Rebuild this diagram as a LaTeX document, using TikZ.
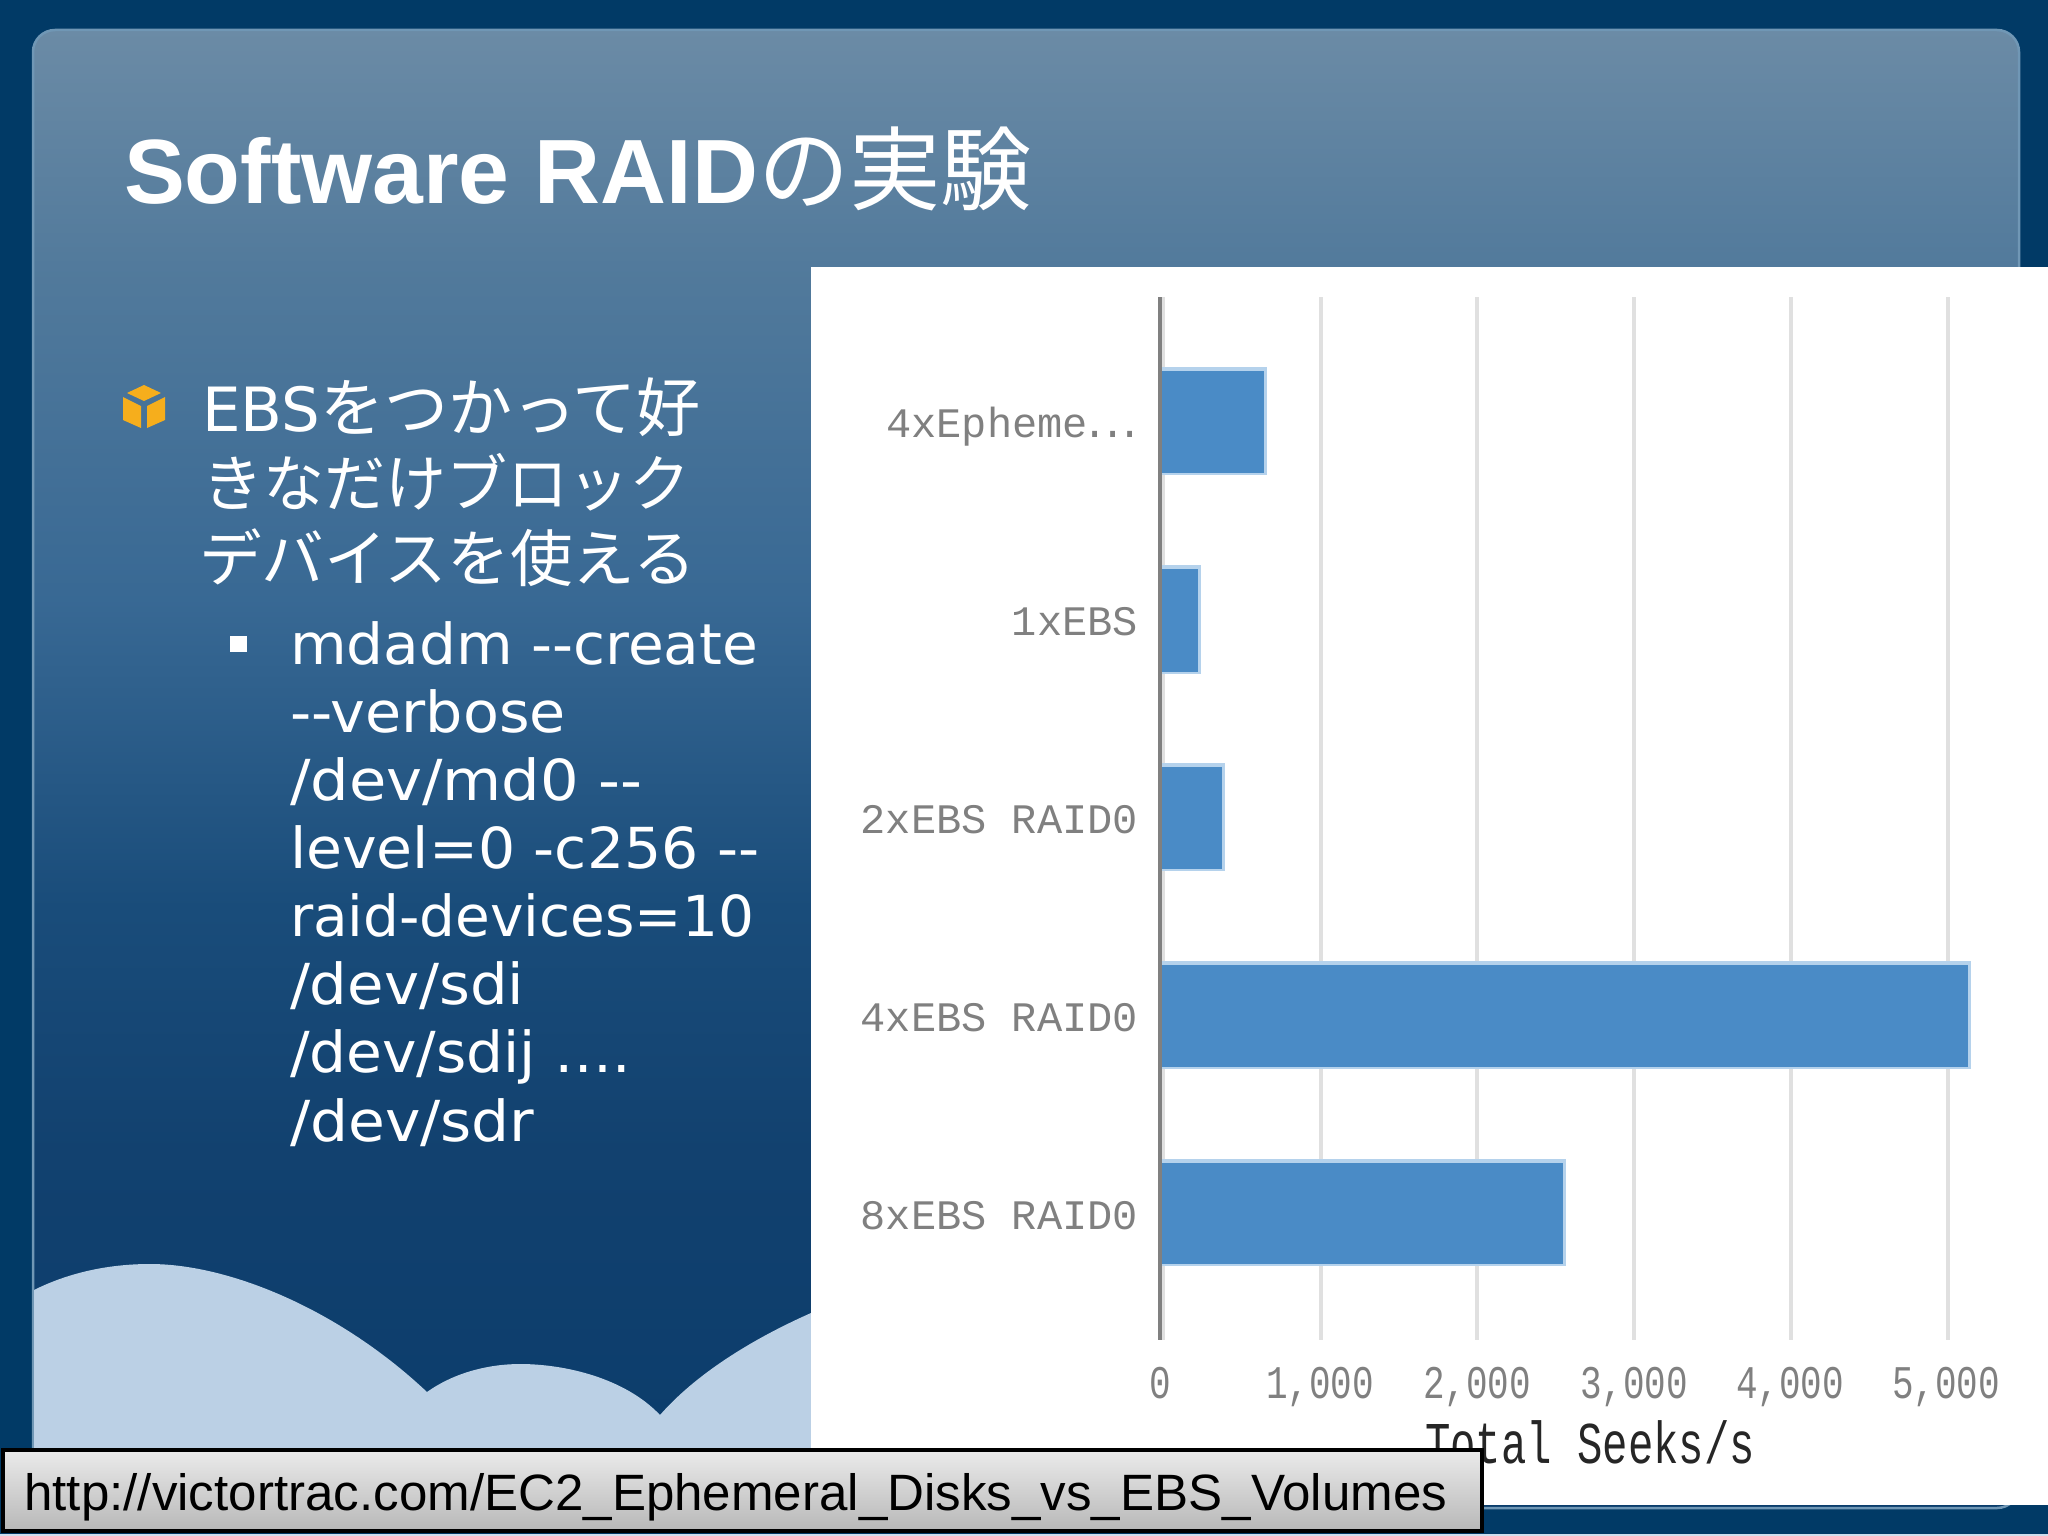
\documentclass[tikz,border=0pt]{standalone}
\usepackage{fontspec}
\setmainfont{Liberation Sans}
\newfontfamily\cjkf{Noto Sans CJK JP}
\newfontfamily\bodyf{DejaVu Sans}
\newfontfamily\monof{Liberation Mono}
\definecolor{outerblue}{HTML}{013A66}
\definecolor{hill}{HTML}{BBD0E5}
\definecolor{barblue}{HTML}{4A8BC6}
\definecolor{baredge}{HTML}{B5D2EC}
\definecolor{gridc}{HTML}{E0E0E0}
\definecolor{axisc}{HTML}{808080}
\definecolor{cubeo}{HTML}{F6AE1C}
\definecolor{paneledge}{HTML}{7097B5}
\pgfdeclareverticalshading{panelshade}{100bp}{
 rgb(0bp)=(0.04,0.235,0.42);
 rgb(25bp)=(0.04,0.235,0.42);
 rgb(37bp)=(0.07,0.255,0.435);
 rgb(45.5bp)=(0.10,0.30,0.48);
 rgb(55.7bp)=(0.22,0.41,0.58);
 rgb(66.9bp)=(0.32,0.478,0.61);
 rgb(75bp)=(0.42,0.545,0.65);
 rgb(100bp)=(0.42,0.545,0.65)}
\pgfdeclareverticalshading{urlshade}{100bp}{
 rgb(0bp)=(0.72,0.72,0.72);
 rgb(25bp)=(0.72,0.72,0.72);
 rgb(75bp)=(0.92,0.92,0.92);
 rgb(100bp)=(0.92,0.92,0.92)}
\tikzset{
 txt/.style={inner sep=0pt,outer sep=0pt,text=white,anchor=base west},
 titletxt/.style={txt,font=\fontsize{91.3}{92}\selectfont\bfseries},
 jptxt/.style={txt,font=\fontsize{62}{62}\selectfont\cjkf},
 bodytxt/.style={txt,font=\fontsize{56.5}{56.5}\selectfont\bodyf},
 cat/.style={inner sep=0pt,outer sep=0pt,text=axisc,anchor=base east,font=\fontsize{42}{42}\selectfont\monof},
 tick/.style={inner sep=0pt,outer sep=0pt,text=axisc,anchor=base,font=\fontsize{36}{36}\selectfont\monof},
 gridline/.style={draw=gridc,line width=3.5pt},
}
\newcommand{\chartbar}[3]{%
 \fill[baredge] (1160,#1-4) rectangle (#3+3,#2+1.5);
 \fill[barblue] (1160,#1) rectangle (#3,#2);}
\newcommand{\wider}[2]{\scalebox{#1}[1]{#2}}
\begin{document}
\begin{tikzpicture}[x=1pt,y=-1pt]
\useasboundingbox (0,0) rectangle (2048,1536);
\fill[outerblue] (0,0) rectangle (2048,1536);
\fill[hill!70] (0,1533.5) rectangle (2048,1536);
% panel
\path[shading=panelshade,draw=paneledge,line width=2.5pt,rounded corners=22pt] (33,30) rectangle (2019,1508);
% hills
\fill[hill] (34,1290) .. controls (70,1272) and (110,1264) .. (150,1264)
 .. controls (230,1264) and (340,1310) .. (427,1392)
 .. controls (455,1372) and (490,1364) .. (520,1364)
 .. controls (565,1364) and (625,1378) .. (660,1415)
 .. controls (695,1375) and (750,1340) .. (811,1313)
 -- (811,1460) -- (34,1460) -- cycle;
% chart
\fill[white] (811,267) rectangle (2048,1505);
\foreach \gx in {1163,1321,1477,1634,1791,1948}
 \draw[gridline] (\gx,297) -- (\gx,1340);
\chartbar{371}{473}{1264}
\chartbar{569}{672}{1198}
\chartbar{767}{869}{1222}
\chartbar{965}{1067}{1968}
\chartbar{1163}{1264}{1563}
\draw[axisc,line width=3.5pt] (1160,297) -- (1160,1340);
\node[cat] (c1) at (1138,437) {4xEpheme\makebox[50pt][s]{\makebox[15pt]{.}\hfill\makebox[15pt]{.}\hfill\makebox[15pt]{.}}};
\node[cat] (c2) at (1138,635) {1xEBS};
\node[cat] (c3) at (1138,833) {2xEBS RAID0};
\node[cat] (c4) at (1138,1031) {4xEBS RAID0};
\node[cat] (c5) at (1138,1229) {8xEBS RAID0};
\node[tick] (t0) at (1160,1398) {\scalebox{1}[1.3]{0}};
\node[tick] (t1) at (1320,1398) {\scalebox{1}[1.3]{1,000}};
\node[tick] (t2) at (1477,1398) {\scalebox{1}[1.3]{2,000}};
\node[tick] (t3) at (1634,1398) {\scalebox{1}[1.3]{3,000}};
\node[tick] (t4) at (1790,1398) {\scalebox{1}[1.3]{4,000}};
\node[tick] (t5) at (1946,1398) {\scalebox{1}[1.3]{5,000}};
\node[tick,text=black!85,font=\fontsize{42.3}{42}\selectfont\monof] (axt) at (1590,1463) {\scalebox{1}[1.4]{Total Seeks/s}};
% title
\node[titletxt] (title) at (124,203) {Software RAID\cjkf\mdseries の実験};
% cube
\fill[cubeo] (144,385) -- (161,393) -- (144,401) -- (127,393) -- cycle;
\fill[cubeo] (123,397) -- (141,406) -- (141,428) -- (123,420) -- cycle;
\fill[cubeo] (147,406) -- (165,397) -- (165,420) -- (147,428) -- cycle;
% bullet text
\node[txt,font=\fontsize{61}{61}\selectfont\bodyf] (l1) at (202,431) {EBS{\cjkf\fontsize{64}{64}\selectfont をつかって好}};
\node[jptxt] (l2) at (202,506) {\wider{0.985}{きなだけブロック}};
\node[jptxt] (l3) at (199,581) {\wider{1.01}{デバイスを使える}};
\fill[white] (230,636) rectangle (247,652);
\node[bodytxt] (b1) at (290,664) {\wider{1.03}{mdadm --create}};
\node[bodytxt] (b2) at (290,732) {\wider{1.04}{--verbose}};
\node[bodytxt] (b3) at (290,800) {\wider{1.075}{/dev/md0 --}};
\node[bodytxt] (b4) at (290,868) {\wider{1.035}{level=0 -c256 --}};
\node[bodytxt] (b5) at (290,936) {raid-devices=10};
\node[bodytxt] (b6) at (290,1004) {\wider{1.05}{/dev/sdi}};
\node[bodytxt] (b7) at (290,1072) {\wider{1.03}{/dev/sdij ….}};
\node[bodytxt] (b8) at (290,1141) {\wider{1.06}{/dev/sdr}};
% url box
\path[shading=urlshade,draw=black,line width=4pt] (3,1450) rectangle (1482,1531);
\node[inner sep=0pt,anchor=base west,text=black,font=\fontsize{51.1}{51}\selectfont] (url) at (24,1510) {http://victortrac.com/EC2\_Ephemeral\_Disks\_vs\_EBS\_Volumes};
\end{tikzpicture}
\end{document}
